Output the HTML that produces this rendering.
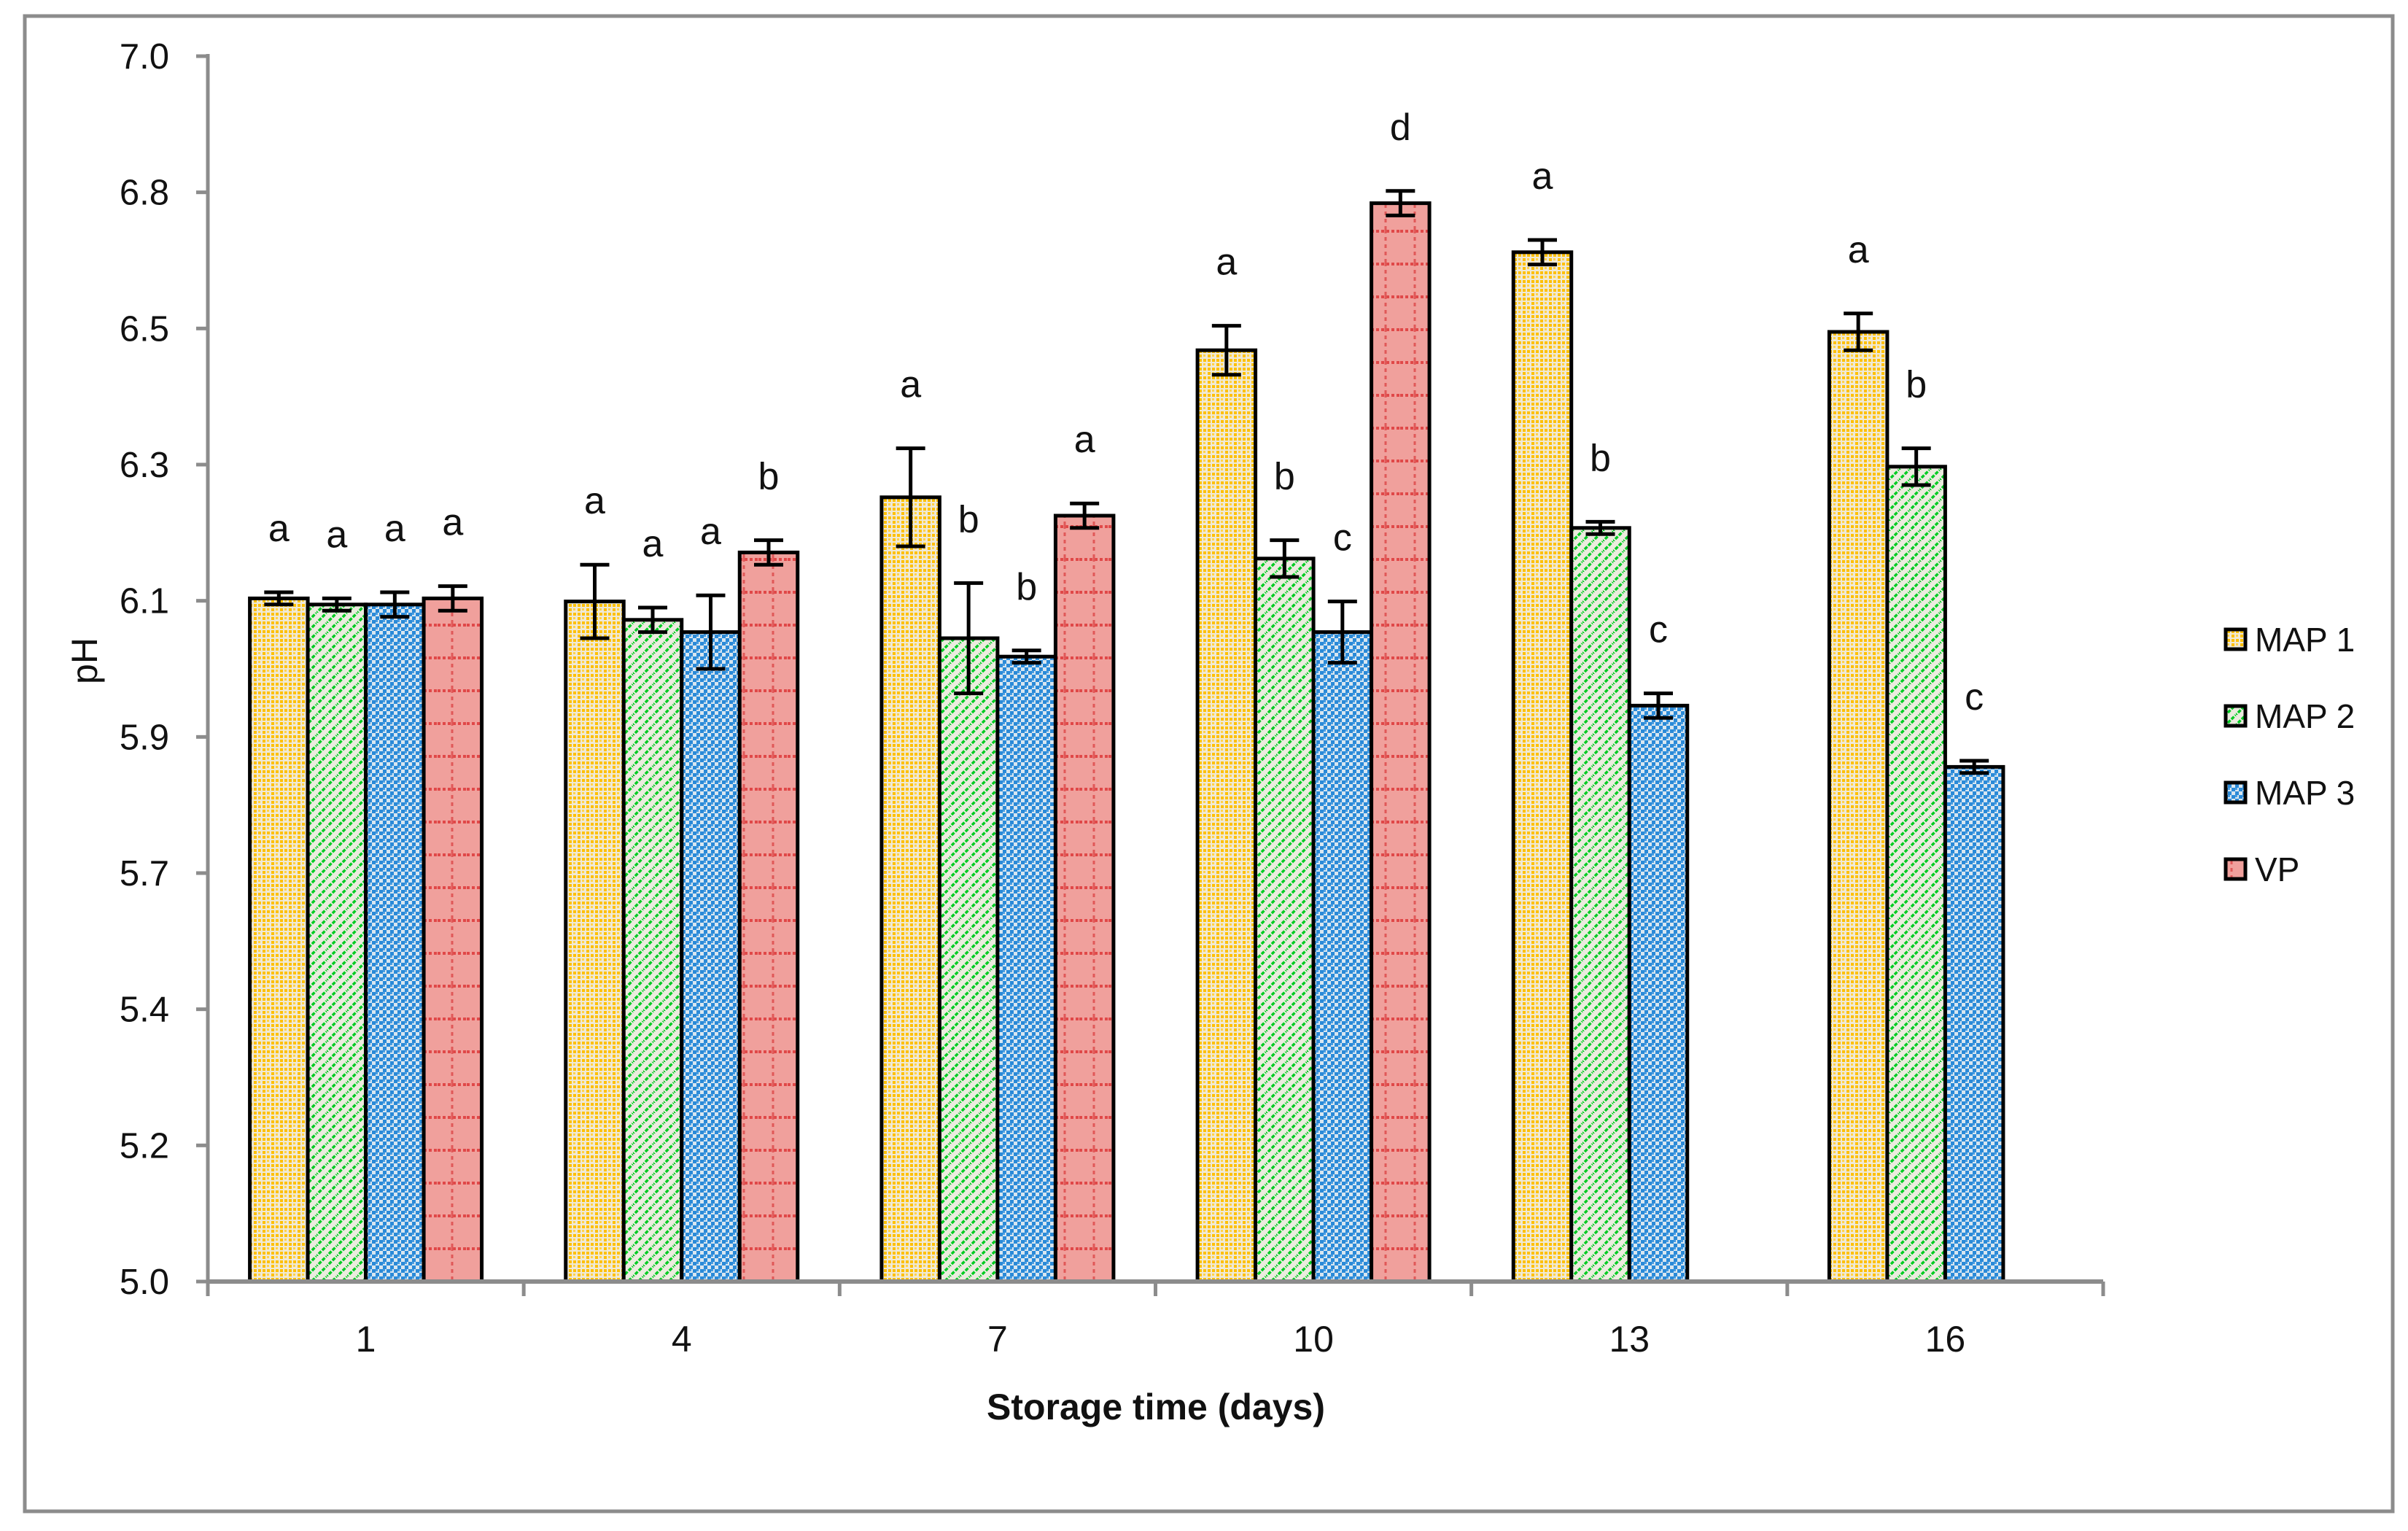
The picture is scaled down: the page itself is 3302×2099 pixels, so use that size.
<!DOCTYPE html>
<html><head><meta charset="utf-8"><style>
html,body{margin:0;padding:0;background:#fff;}
svg{display:block;font-family:"Liberation Sans",sans-serif;}
</style></head><body>
<svg id="chart" width="3302" height="2099" viewBox="0 0 3302 2099" xmlns="http://www.w3.org/2000/svg">
<defs>
<pattern id="p0" width="12" height="12" patternUnits="userSpaceOnUse">
<rect width="12" height="12" fill="#efe9d6"/>
<rect x="0" y="0" width="4" height="4" fill="#ffc000"/><rect x="6" y="0" width="4" height="4" fill="#ffc000"/>
<rect x="0" y="6" width="4" height="4" fill="#ffc000"/><rect x="6" y="6" width="3" height="3" fill="#ffd24a"/>
</pattern>
<pattern id="p1" width="14" height="14" patternUnits="userSpaceOnUse">
<rect width="14" height="14" fill="#ecebdf"/>
<path d="M-2,16 L16,-2 M-9,9 L9,-9 M5,23 L23,5" stroke="#00cc22" stroke-width="3.5" stroke-dasharray="5,2"/>
</pattern>
<pattern id="p2" width="10" height="10" patternUnits="userSpaceOnUse">
<rect width="10" height="10" fill="#d8e6f0"/>
<rect x="0" y="0" width="5" height="5" fill="#2a8ad8"/><rect x="5" y="5" width="5" height="5" fill="#2a8ad8"/>
<rect x="5" y="0" width="3" height="3" fill="#4a9de0"/>
</pattern>
<pattern id="p3" width="40" height="45" patternUnits="userSpaceOnUse">
<rect width="40" height="45" fill="#f0a09c"/>
<path d="M0,2 H40" stroke="#e04848" stroke-width="4" stroke-dasharray="4,3"/>
<path d="M20,0 V45" stroke="#e05858" stroke-width="3" stroke-dasharray="5,5"/>
</pattern>
</defs>
<rect x="34" y="22" width="3247" height="2050" fill="#fff" stroke="#8c8c8c" stroke-width="5"/>
<g id="plot"></g>
</svg>
<script>
const categories = ["1","4","7","10","13","16"];
const seriesNames = ["MAP 1","MAP 2","MAP 3","VP"];
const map1 = [6.115, 6.11, 6.28, 6.52, 6.68, 6.55];
const map2 = [6.105, 6.08, 6.05, 6.18, 6.23, 6.33];
const map3 = [6.105, 6.06, 6.02, 6.06, 5.94, 5.84];
const vp   = [6.115, 6.19, 6.25, 6.76, null, null];
const err1 = [0.01, 0.06, 0.08, 0.04, 0.02, 0.03];
const err2 = [0.01, 0.02, 0.09, 0.03, 0.01, 0.03];
const err3 = [0.02, 0.06, 0.01, 0.05, 0.02, 0.01];
const errVP = [0.02, 0.02, 0.02, 0.02, null, null];
const let1 = ["a","a","a","a","a","a"];
const let2 = ["a","a","b","b","b","b"];
const let3 = ["a","a","b","c","c","c"];
const letVP = ["a","b","a","d",null,null];
const yTickLabels = ["5.0","5.2","5.4","5.7","5.9","6.1","6.3","6.5","6.8","7.0"];
const yMin = 5.0, yMax = 7.0;

const NS = "http://www.w3.org/2000/svg";
const g = document.getElementById("plot");
const X0 = 285, X1 = 2884, Y0 = 1757, YT = 77;
const catW = (X1 - X0) / categories.length;
const barW = 79.5;
function y(v){ return Y0 - (v - yMin) / (yMax - yMin) * (Y0 - YT); }
function xc(i){ return X0 + catW * (i + 0.5); }
function mk(tag, attrs, parent){ const e = document.createElementNS(NS, tag); for (const k in attrs) e.setAttribute(k, attrs[k]); (parent||g).appendChild(e); return e; }

yTickLabels.forEach((lab, k) => {
  const v = yMin + k * (yMax - yMin) / (yTickLabels.length - 1);
  const t = mk("line", {x1: X0 - 16, x2: X0, y1: y(v), y2: y(v), stroke: "#8c8c8c", "stroke-width": 5});
  
  
  const tx = mk("text", {x: 232, y: y(v) + 17, "text-anchor": "end", "font-size": 49, fill: "#111"});
  tx.textContent = lab;
  
  
});

const series = [map1, map2, map3, vp];
const errs = [err1, err2, err3, errVP];
const lets = [let1, let2, let3, letVP];
series.forEach((vals, s) => {
  vals.forEach((v, i) => {
    if (v === null) return;
    const left = xc(i) - 2 * barW + s * barW;
    const r = mk("rect", {x: left, y: y(v), width: barW, height: Y0 - y(v), fill: "url(#p" + s + ")", stroke: "#000", "stroke-width": 5});
    
    
    const e = errs[s][i], cx = left + barW / 2;
    const eb = mk("path", {d: `M${cx},${y(v + e)} V${y(v - e)} M${cx - 20},${y(v + e)} H${cx + 20} M${cx - 20},${y(v - e)} H${cx + 20}`, stroke: "#000", "stroke-width": 5, fill: "none"});
    
    
    const lt = mk("text", {x: cx, y: y(v + e) - 70, "text-anchor": "middle", "font-size": 52, fill: "#111"});
    lt.textContent = lets[s][i];
    
    
  });
});

const ax = mk("line", {x1: X0, x2: X1, y1: Y0, y2: Y0, stroke: "#8c8c8c", "stroke-width": 6});


const ay = mk("line", {x1: X0, x2: X0, y1: YT - 3, y2: Y0 + 20, stroke: "#8c8c8c", "stroke-width": 5});


for (let i = 0; i <= categories.length; i++) {
  const t = mk("line", {x1: X0 + catW * i, x2: X0 + catW * i, y1: Y0, y2: Y0 + 20, stroke: "#8c8c8c", "stroke-width": 5});
  
  
}
categories.forEach((c, i) => {
  const t = mk("text", {x: xc(i), y: 1853, "text-anchor": "middle", "font-size": 50, fill: "#111"});
  t.textContent = c;
  
  
});
const xt = mk("text", {x: 1585, y: 1946, "text-anchor": "middle", "font-size": 50, "font-weight": "bold", fill: "#111"});
xt.textContent = "Storage time (days)";


const yt = mk("text", {x: 0, y: 0, "text-anchor": "middle", "font-size": 50, fill: "#111", transform: "translate(133,906) rotate(-90)"});
yt.textContent = "pH";



seriesNames.forEach((n, s) => {
  const cy = 876 + s * 105;
  const sw = mk("rect", {x: 3052, y: cy - 13, width: 27, height: 27, fill: "url(#p" + s + ")", stroke: "#000", "stroke-width": 5});
  
  
  const t = mk("text", {x: 3092, y: cy + 17, "font-size": 46, fill: "#111"});
  t.textContent = n;
  
  
});
</script>
</body></html>
